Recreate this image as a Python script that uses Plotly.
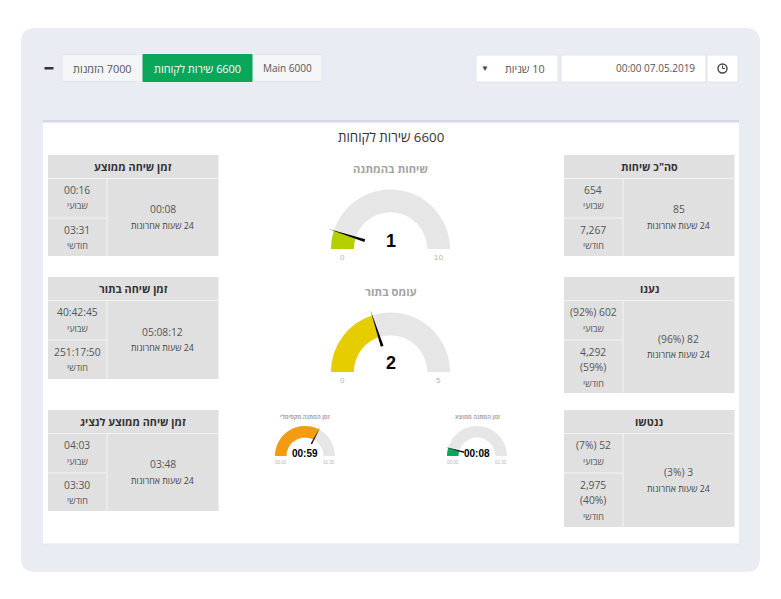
import plotly.graph_objects as go

W, H = 781, 599
FONT = "Open Sans, Liberation Sans, DejaVu Sans, sans-serif"
ARIAL = "Liberation Sans, Arial, sans-serif"
RLM = "\u200f"

# ---- data ----
report_title = "6600 שירות לקוחות"
nav_labels = ["7000 הזמנות", "6600 שירות לקוחות", "Main 6000"]
refresh_label = "10 שניות"
date_label = "00:00 07.05.2019"

gauge_titles = ["שיחות בהמתנה", "עומס בתור", "זמן המתנה מקסימלי", "זמן המתנה ממוצע"]
gauge_values = [1, 2, 59, 8]
gauge_maxima = [10, 5, 90, 90]
gauge_value_labels = ["1", "2", "00:59", "00:08"]
gauge_min_labels = ["0", "0", "00:00", "00:00"]
gauge_max_labels = ["10", "5", "01:30", "01:30"]
gauge_colors = ["#b5cf00", "#e6cd00", "#f39c12", "#0aa65a"]

card_titles = ["זמן שיחה ממוצע", "זמן שיחה בתור", "זמן שיחה ממוצע לנציג", 'סה"כ שיחות', "נענו", "ננטשו"]
card_day = ["00:08", "05:08:12", "03:48", "85", "82 (96%)", "3 (3%)"]
card_week = ["00:16", "40:42:45", "04:03", "654", "602 (92%)", "52 (7%)"]
card_month = [["03:31"], ["251:17:50"], ["03:30"], ["7,267"], ["4,292", "(59%)"], ["2,975", "(40%)"]]
label_day = "24 שעות אחרונות"
label_week = "שבועי"
label_month = "חודשי"

# ---- layout geometry (pixels) ----
card_left = [48, 48, 48, 564, 564, 564]
card_top = [155, 277, 410, 155, 277, 410]
card_bottom = [256, 379, 511, 256, 393, 527]
CARD_W, COL_W, HEAD_H, ROW_H = 170.5, 58.5, 23, 38.5

gauge_cx = [390.5, 390.5, 305, 477]
gauge_base = [249, 372, 456, 456]
gauge_outer = [59.5, 59.5, 30, 30]
gauge_title_y = [168, 291, 417, 417]
gauge_value_y = [241, 363, 453, 453]
gauge_label_y = [257, 380, 462, 462]
gauge_title_size = [11.2, 11.2, 5.7, 5.7]
gauge_value_size = [18, 18, 10, 10]
gauge_tick_size = [8, 8, 4.5, 4.5]

px = lambda x: x / W
py = lambda y: 1 - y / H

fig = go.Figure()
shapes, notes = [], []


def rect(x0, y0, x1, y1, fill, line=None, lw=1):
    shapes.append(dict(type="rect", xref="paper", yref="paper", x0=px(x0), x1=px(x1), y0=py(y1), y1=py(y0),
                       fillcolor=fill, line=dict(color=line or fill, width=lw if line else 0), layer="below"))


def text(x, y, s, size=11, color="#555", bold=False, rtl=True, family=FONT):
    t = (RLM + s) if rtl else s
    if bold:
        t = "<b>" + t + "</b>"
    notes.append(dict(xref="paper", yref="paper", x=px(x), y=py(y), text=t, showarrow=False,
                      xanchor="center", yanchor="middle", font=dict(family=family, size=size, color=color)))


# outer panel with rounded corners
x0, y0, x1, y1, rr = px(21), py(28), px(760), py(572), 14
rx, ry = rr / W, rr / H
shapes.append(dict(type="path", xref="paper", yref="paper", layer="below", fillcolor="#e9edf3", line=dict(width=0),
                   path=(f"M {x0+rx} {y0} L {x1-rx} {y0} Q {x1} {y0} {x1} {y0-ry} L {x1} {y1+ry} Q {x1} {y1} {x1-rx} {y1} "
                         f"L {x0+rx} {y1} Q {x0} {y1} {x0} {y1+ry} L {x0} {y0-ry} Q {x0} {y0} {x0+rx} {y0} Z")))
# white report sheet
rect(43, 120, 739, 544.5, "#e1e5ea")
rect(43, 120, 739, 543.5, "#ffffff")
rect(43, 120, 739, 122.5, "#d3d8e2")

# toolbar
rect(44.5, 67, 53.5, 69.5, "#333333")
rect(62, 54.5, 143, 81.5, "#f4f5f6", "#e3e6ea")
rect(252, 54.5, 322, 81.5, "#f4f5f6", "#e3e6ea")
rect(143, 54.5, 252, 81.5, "#0aa65a", "#0aa65a")
text(102, 68, nav_labels[0], 10.9, "#555")
text(197.5, 68, nav_labels[1], 10.9, "#ffffff")
text(287.5, 68, nav_labels[2], 10, "#555", rtl=False)
rect(476, 55, 558, 82, "#ffffff", "#e0e4ea")
rect(561, 55, 706, 82, "#ffffff", "#e0e4ea")
rect(707, 55, 738, 82, "#ffffff", "#e0e4ea")
text(525, 68.5, refresh_label, 10.8, "#555")
text(484.5, 67.5, "▼", 8, "#444", rtl=False)
text(655, 68.5, date_label, 10, "#555", rtl=False)
shapes.append(dict(type="circle", xref="paper", yref="paper", layer="below", fillcolor="#ffffff",
                   line=dict(color="#444", width=1.4), x0=px(718), x1=px(727), y0=py(73), y1=py(64)))
shapes.append(dict(type="path", xref="paper", yref="paper", layer="below", line=dict(color="#444", width=1),
                   path=f"M {px(722.5)} {py(65.5)} L {px(722.5)} {py(68.5)} L {px(725)} {py(68.5)}"))

text(391, 137, report_title, 13.3, "#333")

# stat cards
for i in range(6):
    L, T, B = card_left[i], card_top[i], card_bottom[i]
    R = L + CARD_W
    rect(L, T, R, B, "#e0e0e0")
    hb = T + HEAD_H
    rect(L, hb, R, hb + 1, "#f3f3f3")
    rect(L + COL_W, hb, L + COL_W + 1, B, "#f3f3f3")
    split = hb + ROW_H + 1
    rect(L, split, L + COL_W, split + 1, "#f3f3f3")
    text((L + R) / 2, T + 11.5, card_titles[i], 10.8, "#333", bold=True)
    cx = L + COL_W / 2
    dx = (L + COL_W + R) / 2
    text(cx, hb + 12, card_week[i], 10.3, "#555")
    text(cx, hb + 28, label_week, 9, "#555")
    lines = card_month[i]
    for k, v in enumerate(lines):
        text(cx, split + 12 + k * 15.5, v, 10.3, "#555")
    text(cx, split + 12 + len(lines) * 15.5 + 0.5, label_month, 9, "#555")
    mid = (hb + B) / 2
    text(dx, mid - 8, card_day[i], 10.3, "#555")
    text(dx, mid + 8.5, label_day, 8.8, "#444")

# gauges, drawn on half-disc polar subplots
INNER, OUTER, TIP, HUB = 0.555, 0.90, 0.985, 0.41
polar_layouts = {}
for i in range(4):
    key = "polar" if i == 0 else f"polar{i+1}"
    ang = gauge_values[i] / gauge_maxima[i] * 180
    R = gauge_outer[i] / OUTER
    cx, base = gauge_cx[i], gauge_base[i]
    polar_layouts[key] = dict(
        domain=dict(x=[px(cx - R), px(cx + R)], y=[py(base), py(base - R)]),
        sector=[0, 180], bgcolor="rgba(0,0,0,0)", barmode="overlay", bargap=0,
        radialaxis=dict(range=[0, 1], visible=False),
        angularaxis=dict(visible=False, direction="clockwise", rotation=180, thetaunit="degrees"),
    )
    fig.add_trace(go.Barpolar(subplot=key, r=[OUTER - INNER], base=[INNER], theta=[90], width=[180],
                              marker=dict(color="#e6e6e6", line=dict(width=0)), hoverinfo="skip"))
    fig.add_trace(go.Barpolar(subplot=key, r=[OUTER - INNER], base=[INNER], theta=[ang / 2], width=[ang],
                              marker=dict(color=gauge_colors[i], line=dict(width=0)), hoverinfo="skip"))
    half = 3.0
    fig.add_trace(go.Scatterpolar(subplot=key, r=[HUB, TIP, HUB, HUB], theta=[ang - half, ang, ang + half, ang - half],
                                  mode="lines", fill="toself", fillcolor="#000000", line=dict(color="#000000", width=0),
                                  hoverinfo="skip"))
    text(cx, gauge_title_y[i], gauge_titles[i], gauge_title_size[i], "#a3a3a3", bold=True)
    text(cx, gauge_value_y[i], gauge_value_labels[i], gauge_value_size[i], "#000000", bold=True, rtl=False, family=ARIAL)
    off = gauge_outer[i] * 0.81
    text(cx - off, gauge_label_y[i], gauge_min_labels[i], gauge_tick_size[i], "#b5b5b5", rtl=False, family=ARIAL)
    text(cx + off, gauge_label_y[i], gauge_max_labels[i], gauge_tick_size[i], "#b5b5b5", rtl=False, family=ARIAL)

fig.update_layout(width=W, height=H, margin=dict(l=0, r=0, t=0, b=0), showlegend=False,
                  paper_bgcolor="#ffffff", plot_bgcolor="#ffffff", shapes=shapes, annotations=notes,
                  **polar_layouts)
fig.write_html("out.html", config=dict(displayModeBar=False),
               post_script="document.body.style.margin='0';")
